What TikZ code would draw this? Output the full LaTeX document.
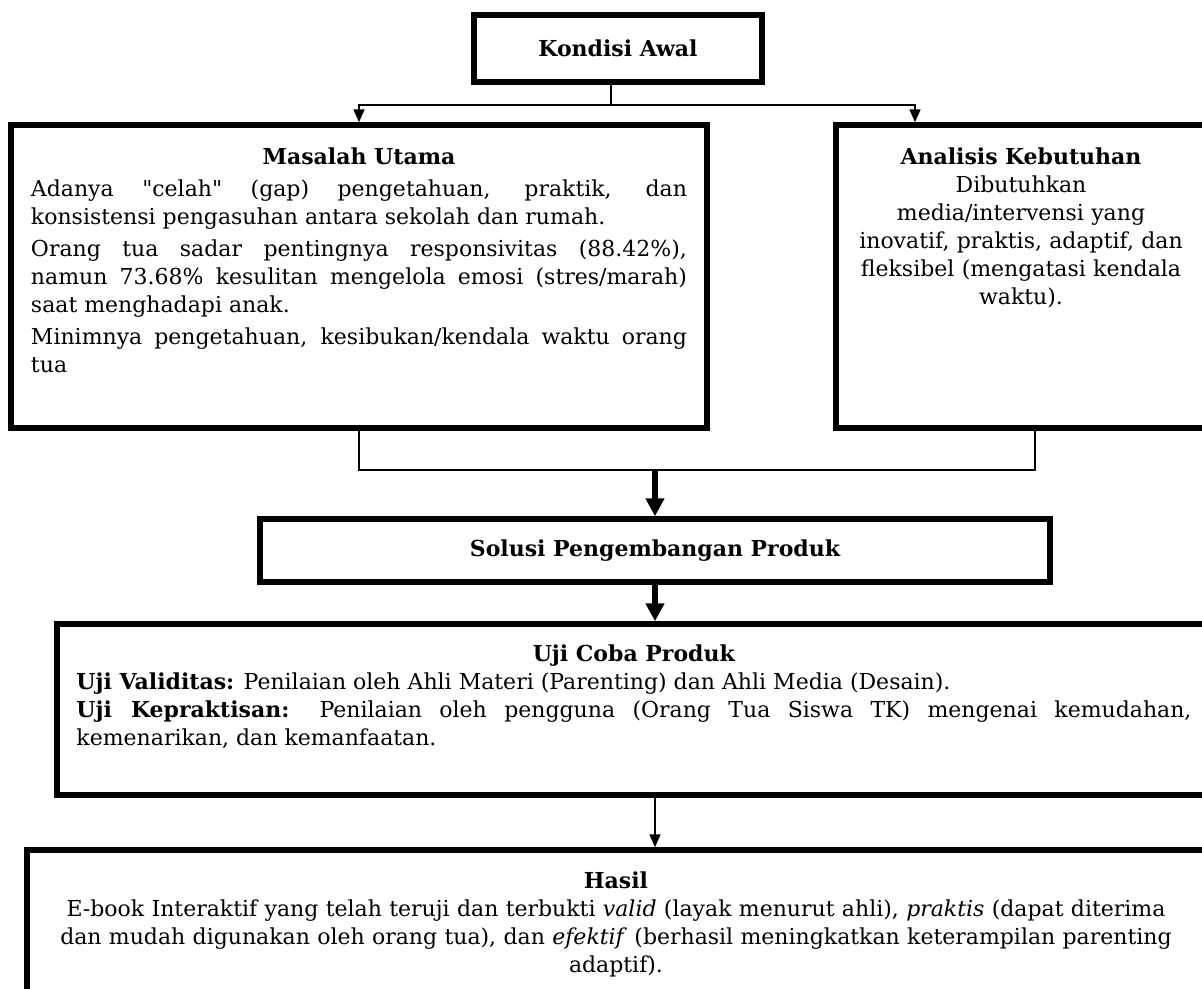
\documentclass[tikz,border=0pt]{standalone}
\usepackage{fontspec}
\setmainfont{DejaVu Serif}[Ligatures=TeXOff]
\usetikzlibrary{arrows.meta,calc}

\begin{document}
\begin{tikzpicture}[x=1bp,y=-1bp,
    box/.style={draw, line width=5.5bp, inner sep=0pt, font=\fontsize{22bp}{28bp}\selectfont\bfseries},
    txt/.style={inner sep=0pt, font=\fontsize{22bp}{28bp}\selectfont},
    link/.style={line width=1.7bp},
    linkarrow/.style={line width=1.7bp, -{Triangle[width=11bp,length=13bp]}},
    bigarrow/.style={line width=6bp, -{Triangle[width=18bp,length=18bp]}}]
        \useasboundingbox (0,0) rectangle (1202,989);
        \clip (0,0) rectangle (1202,989);

        % Kondisi Awal
        \node[box, minimum width=288bp, minimum height=67bp] (kondisi) at (618,48.5) {Kondisi Awal};

        % Masalah Utama
        \node[box, minimum width=696bp, minimum height=303bp] (masalah) at (359,276.5) {};
        \node[txt, text width=656bp, align=justify, anchor=north] (masalahText)
            at ([yshift=-25bp]masalah.north) {\setlength{\parskip}{4bp}%
            {\centering\textbf{Masalah Utama}\par}
            Adanya "celah" (gap) pengetahuan, praktik, dan\linebreak
            konsistensi pengasuhan antara sekolah dan rumah.\par
            Orang tua sadar pentingnya responsivitas (88.42\%),\linebreak
            namun 73.68\% kesulitan mengelola emosi (stres/marah)\linebreak
            saat menghadapi anak.\par
            Minimnya pengetahuan, kesibukan/kendala waktu orang\linebreak
            tua\par};

        % Analisis Kebutuhan
        \node[box, minimum width=370bp, minimum height=303bp] (analisis) at (1021,276.5) {};
        \node[txt, text width=360bp, align=center, anchor=north] (analisisText)
            at ([yshift=-25bp]analisis.north) {\textbf{Analisis Kebutuhan}\\
            Dibutuhkan\\ media/intervensi yang\\ inovatif, praktis, adaptif, dan\\
            fleksibel (mengatasi kendala\\ waktu).};

        % Solusi
        \node[box, minimum width=790bp, minimum height=63bp] (solusi) at (655,550.5) {Solusi Pengembangan Produk};

        % Uji Coba Produk
        \node[box, minimum width=1154bp, minimum height=171bp] (uji) at (634,709.5) {};
        \node[txt, text width=1115bp, align=justify, anchor=north] (ujiText)
            at ([yshift=-23bp]uji.north) {%
            {\centering\textbf{Uji Coba Produk}\par}
            \textbf{Uji Validitas:} Penilaian oleh Ahli Materi (Parenting) dan Ahli Media (Desain).\par
            \textbf{Uji Kepraktisan:} Penilaian oleh pengguna (Orang Tua Siswa TK) mengenai kemudahan,\linebreak
            kemenarikan, dan kemanfaatan.\par};

        % Hasil
        \node[box, minimum width=1178bp, minimum height=150bp] (hasil) at (616,925) {};
        \node[txt, text width=1160bp, align=center, anchor=north] (hasilText)
            at ([yshift=-24bp]hasil.north) {\textbf{Hasil}\\
            E-book Interaktif yang telah teruji dan terbukti \textit{valid} (layak menurut ahli), \textit{praktis} (dapat diterima\\
            dan mudah digunakan oleh orang tua), dan \textit{efektif} (berhasil meningkatkan keterampilan parenting\\
            adaptif).};

        % Connectors
        \coordinate (split) at (611,105);
        \coordinate (toAnalisis) at (915,105);
        \draw[link] (split |- kondisi.south) -- (split);
        \draw[linkarrow] (split) -| (masalah.north);
        \draw[linkarrow] (split) -- (toAnalisis) -- (toAnalisis |- analisis.north);

        \coordinate (merge) at (655,470);
        \coordinate (mergeRight) at (1035,470);
        \draw[link] (masalah.south) |- (mergeRight) -- (mergeRight |- analisis.south);
        \draw[bigarrow] (merge) -- (solusi.north);
        \draw[bigarrow] (solusi.south) -- (solusi.south |- uji.north);
        \draw[linkarrow] (uji.south -| solusi.south) -- (hasil.north -| solusi.south);
\end{tikzpicture}
\end{document}
